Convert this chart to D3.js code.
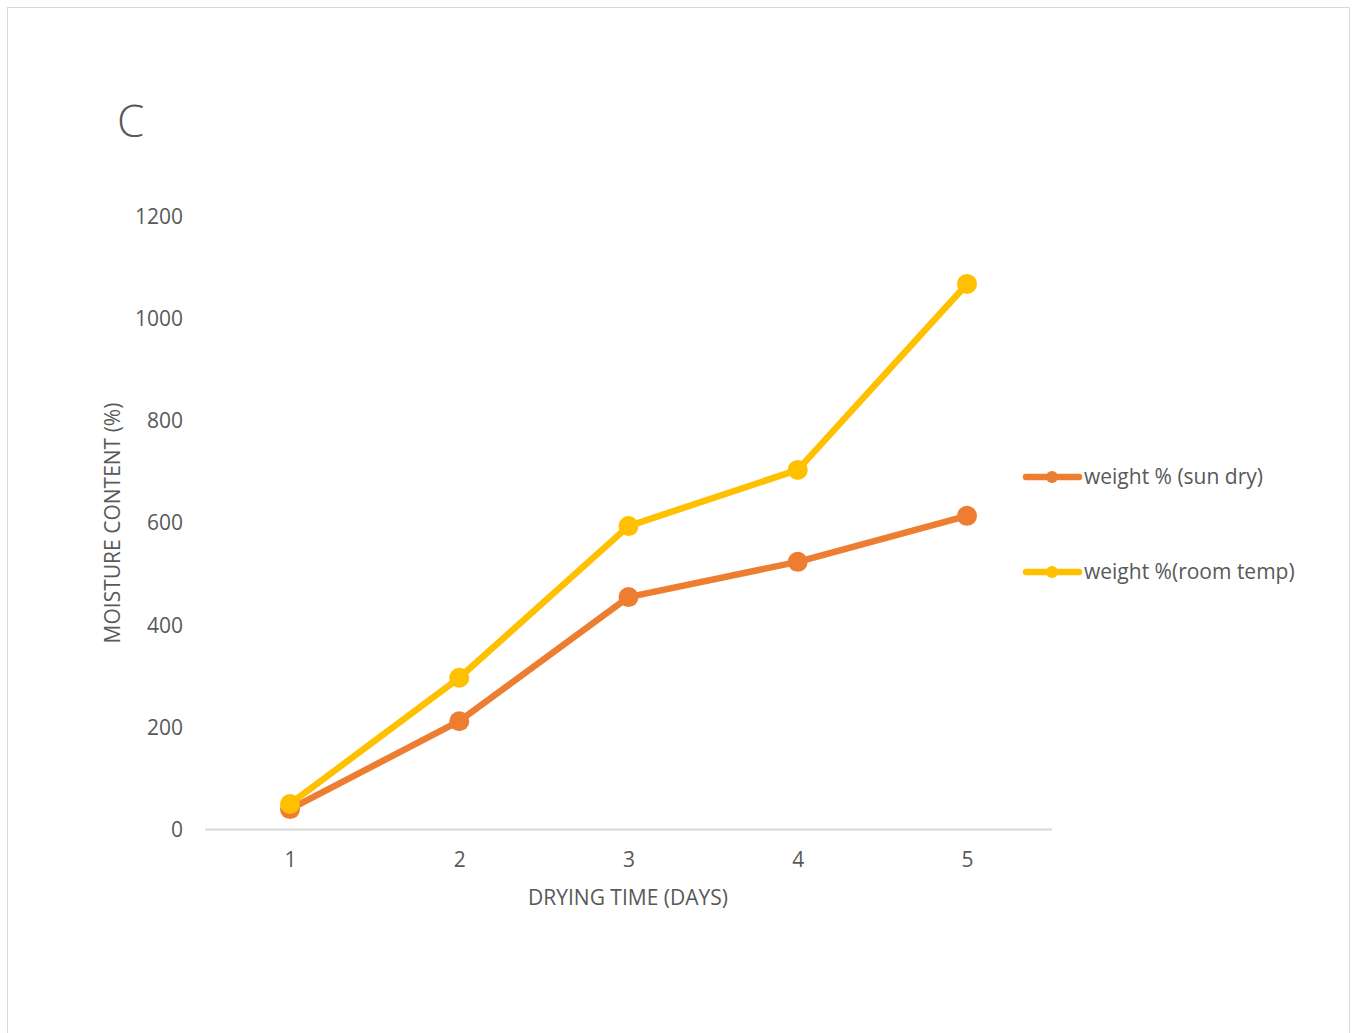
<!DOCTYPE html>
<html><head><meta charset="utf-8">
<script src="https://cdn.jsdelivr.net/npm/d3@7"></script>
<style>body{margin:0;background:#fff;font-family:"Open Sans",sans-serif;}</style>
</head><body><svg id="c" width="1357" height="1033"></svg>
<script>
const days = [1, 2, 3, 4, 5];
const sunDry = [39, 211, 454, 523, 613];
const roomTemp = [49, 296, 593, 703, 1067];
const yTicks = [0, 200, 400, 600, 800, 1000, 1200];
const seriesNames = ["weight % (sun dry)", "weight %(room temp)"];
const colors = ["#ED7D31", "#FFC000"];

const svg = d3.select("#c");
svg.append("rect").attr("x",7.5).attr("y",7.5).attr("width",1342).attr("height",1040)
  .attr("fill","#fff").attr("stroke","#d9d9d9").attr("stroke-width",1);

const x = d3.scalePoint().domain(days).range([290, 967]);
const y = d3.scaleLinear().domain([0, 1200]).range([829, 216]);
const txt = "#595959";
const fs = "21px";

svg.append("text").attr("x",117).attr("y",137).attr("fill",txt)
  .style("font-size","44px").style("font-weight",300).text("C");

// y tick labels
const ya = svg.append("g").attr("transform","translate(183,0)")
  .call(d3.axisLeft(y).tickValues(yTicks).tickFormat(d3.format("d")).tickSize(0).tickPadding(0));
ya.select(".domain").remove();
ya.selectAll("text").attr("fill",txt).style("font-size",fs).style("font-family","Open Sans").attr("dy","0.35em");

// x axis
svg.append("line").attr("x1",205).attr("x2",1052).attr("y1",829.5).attr("y2",829.5)
  .attr("stroke","#d9d9d9").attr("stroke-width",2);
const xa = svg.append("g").attr("transform","translate(0,829)")
  .call(d3.axisBottom(x).tickSize(0).tickPadding(23));
xa.select(".domain").remove();
xa.selectAll("text").attr("fill",txt).style("font-size",fs).style("font-family","Open Sans");

svg.append("text").attr("x",628).attr("y",905).attr("text-anchor","middle").attr("fill",txt)
  .style("font-size",fs).text("DRYING TIME (DAYS)");
svg.append("text").attr("transform","translate(120,523) rotate(-90)").attr("text-anchor","middle").attr("fill",txt)
  .style("font-size",fs).text("MOISTURE CONTENT (%)");

const data = [sunDry, roomTemp];
const line = d3.line().x((d,i)=>x(days[i])).y(d=>y(d));
data.forEach((s, k) => {
  const g = svg.append("g");
  g.append("path").datum(s).attr("d", line).attr("fill","none").attr("stroke",colors[k])
    .attr("stroke-width",6.5).attr("stroke-linejoin","round").attr("stroke-linecap","round");
  g.selectAll("circle").data(s).join("circle").attr("cx",(d,i)=>x(days[i])).attr("cy",d=>y(d))
    .attr("r",10).attr("fill",colors[k]);
});

// legend
const legY = [477, 572];
seriesNames.forEach((n,k)=>{
  const g = svg.append("g");
  g.append("line").attr("x1",1026).attr("x2",1079).attr("y1",legY[k]).attr("y2",legY[k])
    .attr("stroke",colors[k]).attr("stroke-width",6.5).attr("stroke-linecap","round");
  g.append("circle").attr("cx",1052).attr("cy",legY[k]).attr("r",6).attr("fill",colors[k]);
  g.append("text").attr("x",1084).attr("y",legY[k]).attr("dy","0.35em").attr("fill",txt)
    .style("font-size",fs).text(n);
});
</script></body></html>
